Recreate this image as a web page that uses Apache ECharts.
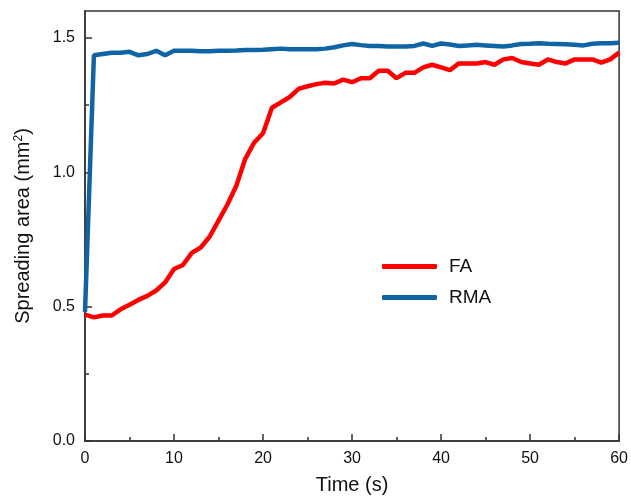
<!DOCTYPE html>
<html>
<head>
<meta charset="utf-8">
<script src="https://cdn.jsdelivr.net/npm/echarts@6/dist/echarts.min.js"></script>
<style>html,body{margin:0;padding:0;background:#fff}#c{width:631px;height:500px}</style>
</head>
<body>
<div id="c"></div>
<script>
const time = [0,1,2,3,4,5,6,7,8,9,10,11,12,13,14,15,16,17,18,19,20,21,22,23,24,25,26,27,28,29,30,31,32,33,34,35,36,37,38,39,40,41,42,43,44,45,46,47,48,49,50,51,52,53,54,55,56,57,58,59,60];
const faValues = [0.47,0.46,0.467,0.467,0.49,0.507,0.525,0.54,0.56,0.59,0.64,0.655,0.70,0.72,0.76,0.82,0.88,0.95,1.05,1.11,1.145,1.24,1.26,1.28,1.31,1.32,1.328,1.333,1.33,1.345,1.335,1.35,1.35,1.378,1.378,1.35,1.37,1.37,1.39,1.40,1.39,1.38,1.405,1.405,1.405,1.41,1.40,1.42,1.425,1.41,1.405,1.40,1.42,1.41,1.405,1.42,1.42,1.42,1.408,1.42,1.445];
const rmaValues = [0.48,1.435,1.44,1.445,1.445,1.448,1.435,1.44,1.452,1.435,1.452,1.452,1.452,1.45,1.45,1.452,1.452,1.453,1.455,1.455,1.456,1.458,1.46,1.458,1.458,1.458,1.458,1.46,1.465,1.472,1.477,1.473,1.47,1.47,1.468,1.468,1.468,1.47,1.479,1.47,1.479,1.475,1.47,1.472,1.474,1.472,1.47,1.468,1.472,1.477,1.478,1.48,1.478,1.477,1.476,1.474,1.472,1.478,1.48,1.48,1.482];
const yMajorTicks = [0, 0.5, 1.0, 1.5];
const yMinorTicks = [0.25, 0.75, 1.25];
const seriesNames = ['FA', 'RMA'];
const seriesColors = ['#ff0000', '#0f64a6'];

const font = 'Arial, "Liberation Sans", sans-serif';
const chart = echarts.init(document.getElementById('c'));
const pair = (xs, ys) => xs.map((x, i) => [x, ys[i]]);
chart.setOption({
  animation: false,
  grid: {left: 85, right: 11, top: 11, bottom: 58, show: true, borderColor: '#333', borderWidth: 1.5},
  legend: {
    left: 377, top: 252, orient: 'vertical', itemWidth: 55, itemHeight: 5, itemGap: 12,
    icon: 'roundRect',
    textStyle: {fontFamily: font, fontSize: 19, color: '#111', padding: [0,0,0,7]},
    data: seriesNames.map((n, i) => ({name: n, itemStyle: {color: seriesColors[i]}}))
  },
  xAxis: {
    type: 'value', min: 0, max: 60, interval: 10,
    name: 'Time (s)', nameLocation: 'middle', nameGap: 34,
    nameTextStyle: {fontFamily: font, fontSize: 20, color: '#111'},
    axisLine: {lineStyle: {color: '#333', width: 1.5}},
    axisTick: {inside: true, length: 7, lineStyle: {color: '#333', width: 1.5}},
    minorTick: {show: true, splitNumber: 2, length: 4, lineStyle: {color: '#333', width: 1.5}},
    axisLabel: {fontFamily: font, fontSize: 16, color: '#111', margin: 10},
    splitLine: {show: false}
  },
  yAxis: [{
    type: 'value', min: 0, max: 1.6,
    name: 'Spreading area (mm{sup|2})', nameLocation: 'middle', nameGap: 52,
    nameTextStyle: {fontFamily: font, fontSize: 20, color: '#111',
      rich: {sup: {fontFamily: font, fontSize: 12, color: '#111', verticalAlign: 'top', lineHeight: 12, padding: [0,0,10,0]}}},
    axisLine: {show: true, lineStyle: {color: '#333', width: 1.5}},
    axisTick: {inside: true, length: 7, customValues: yMajorTicks, lineStyle: {color: '#333', width: 1.5}},
    axisLabel: {fontFamily: font, fontSize: 16, color: '#111', margin: 10, customValues: yMajorTicks, formatter: v => v.toFixed(1)},
    splitLine: {show: false}
  }, {
    type: 'value', min: 0, max: 1.6, position: 'left',
    axisLine: {show: false},
    axisTick: {show: true, inside: true, length: 4, customValues: yMinorTicks, lineStyle: {color: '#333', width: 1.5}},
    axisLabel: {show: false},
    splitLine: {show: false}
  }],
  series: [{
    name: seriesNames[0], type: 'line', data: pair(time, faValues), showSymbol: false, symbol: 'none',
    lineStyle: {color: seriesColors[0], width: 4.5}, itemStyle: {color: seriesColors[0]}, z: 2
  }, {
    name: seriesNames[1], type: 'line', data: pair(time, rmaValues), showSymbol: false, symbol: 'none',
    lineStyle: {color: seriesColors[1], width: 4.5}, itemStyle: {color: seriesColors[1]}, z: 3
  }]
});
</script>
</body>
</html>
